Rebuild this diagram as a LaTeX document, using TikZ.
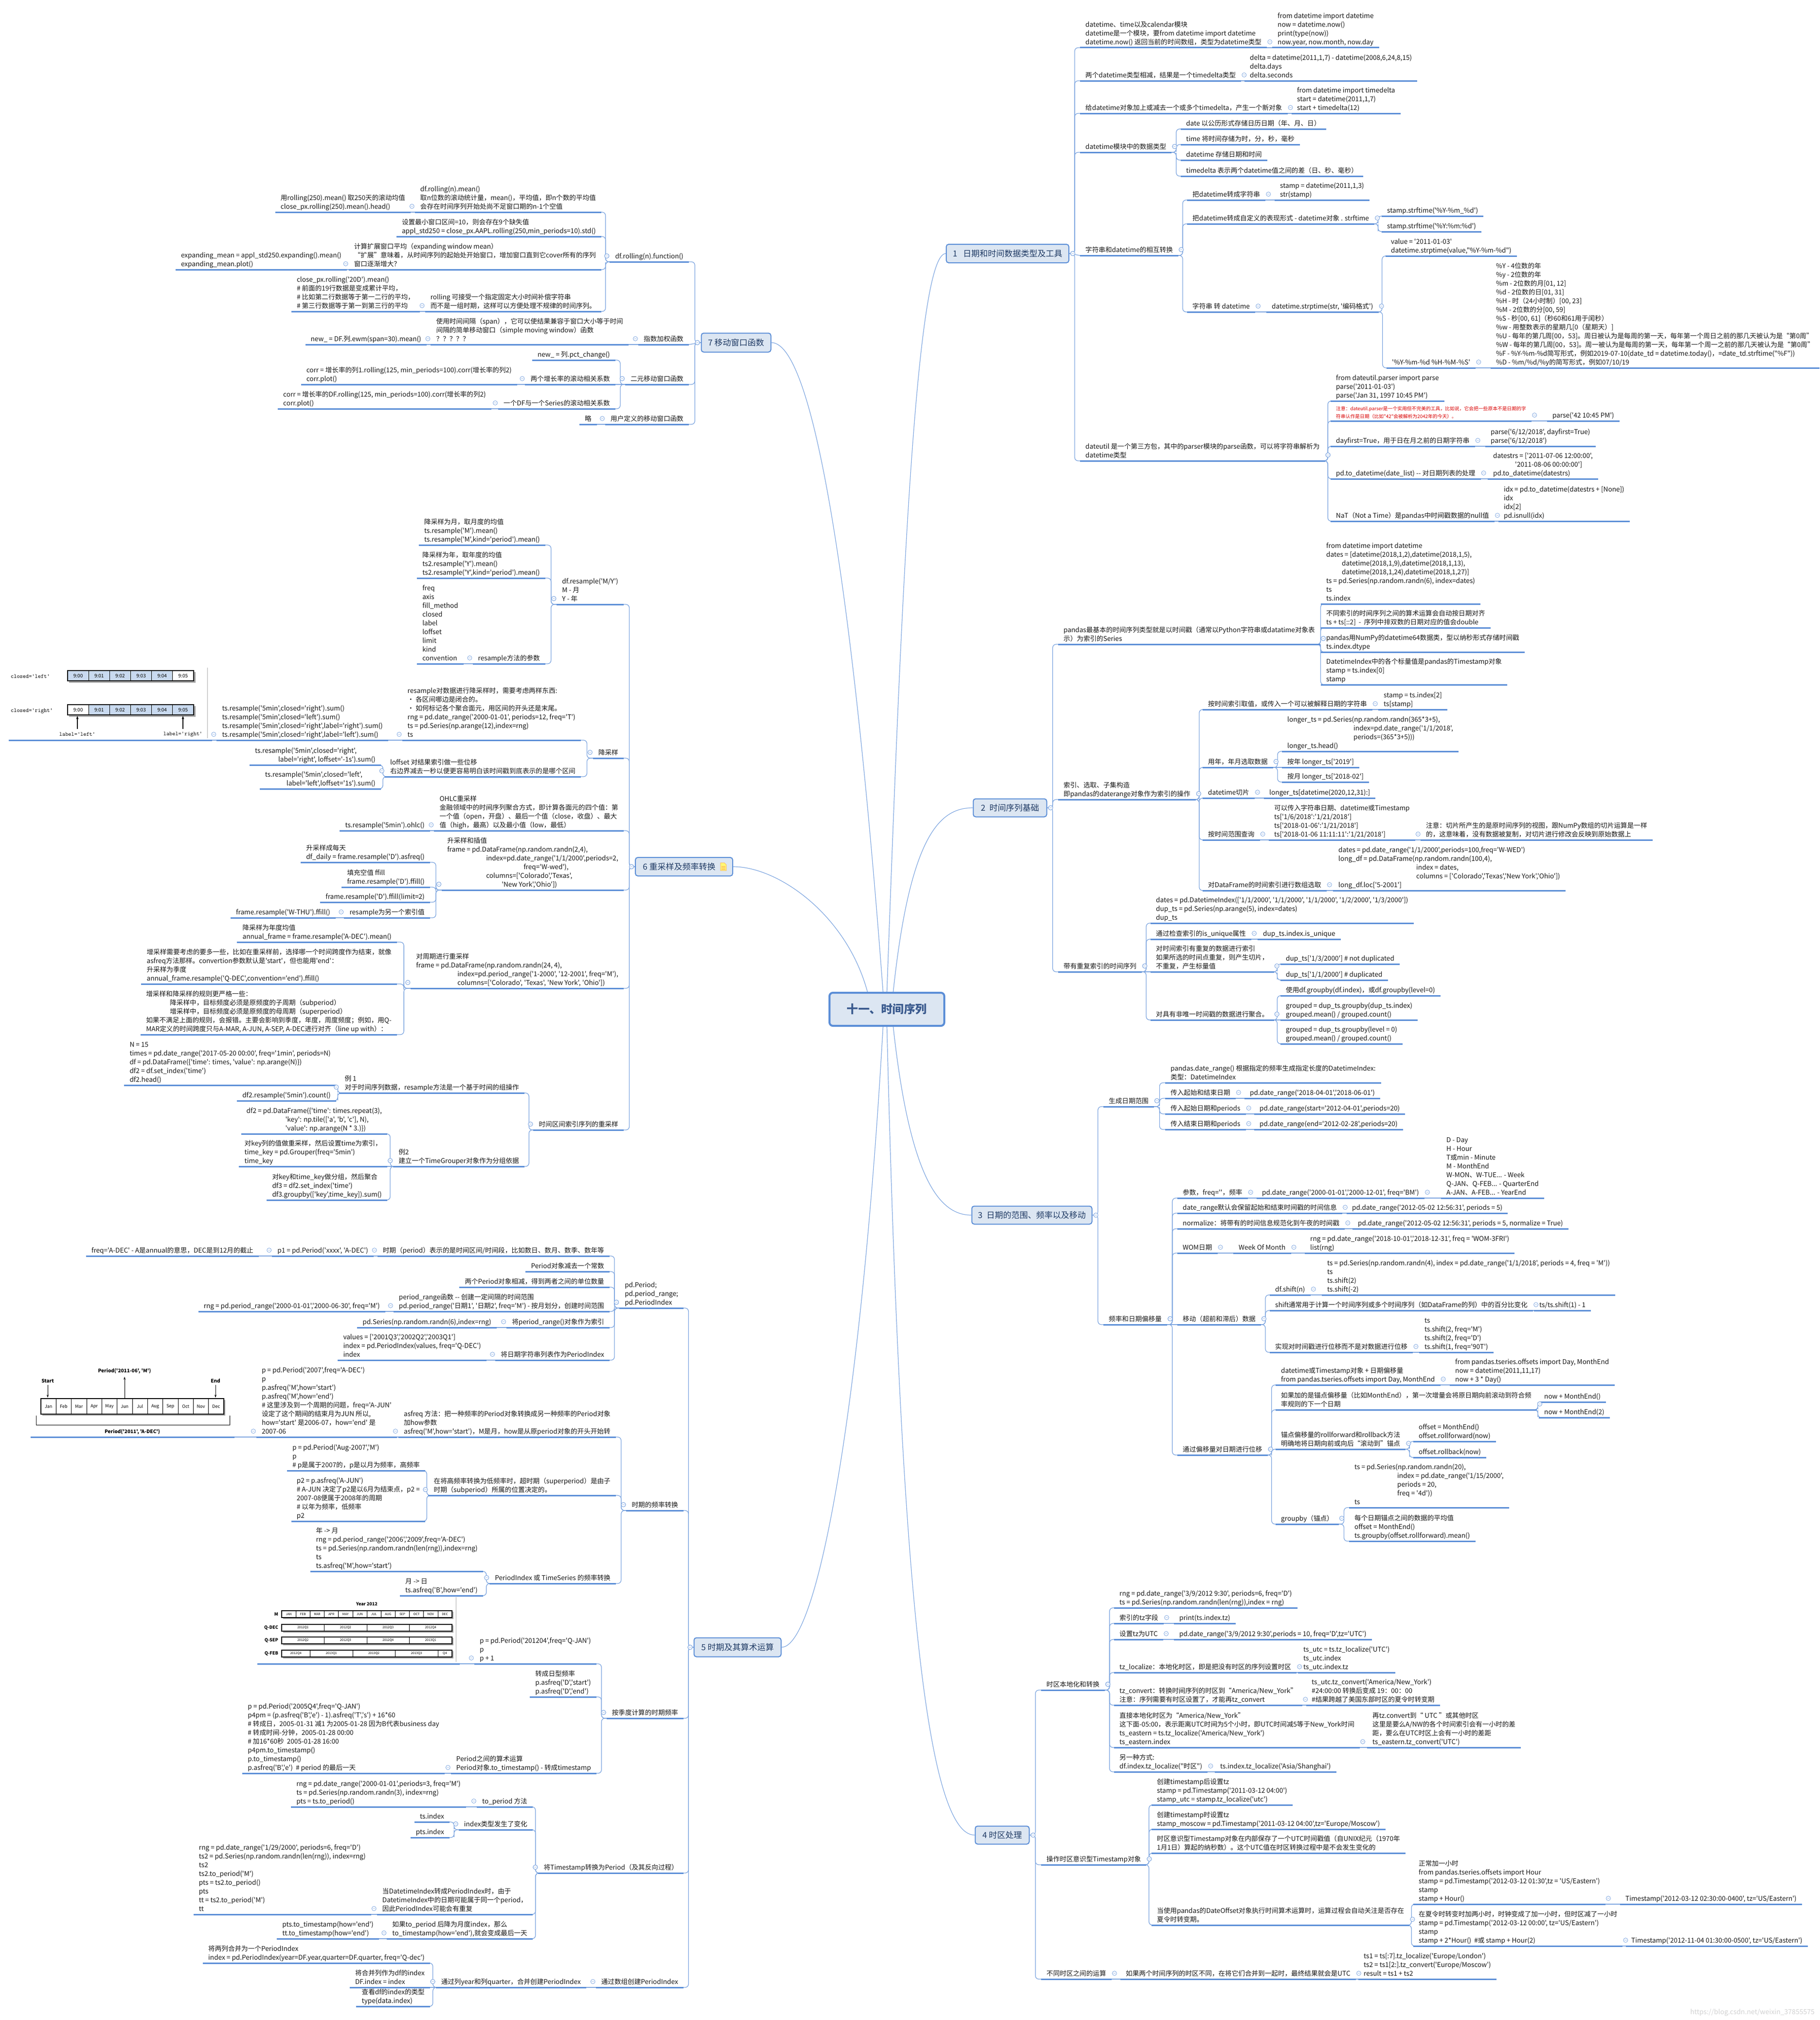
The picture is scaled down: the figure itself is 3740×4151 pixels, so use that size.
\documentclass[tikz,border=0pt]{standalone}
\usepackage{fontspec}
\newfontfamily\zh{Noto Sans CJK SC}
\usetikzlibrary{calc,arrows.meta}
\pgfdeclarelayer{bgzero}\pgfdeclarelayer{background}\pgfsetlayers{bgzero,background,main}
\definecolor{ulc}{HTML}{5B8ED7}
\definecolor{cnc}{HTML}{7EA6E0}
\definecolor{mfill}{HTML}{DCE6F2}
\definecolor{mtext}{HTML}{1F3A64}
\definecolor{ctext}{HTML}{3A5A8E}
\definecolor{cellb}{HTML}{C9DAF0}
\tikzset{
 tn/.style={font=\zh\fontsize{13.6}{18}\selectfont, text=black!90, align=left, inner xsep=11pt, inner ysep=1pt, execute at begin node=\strut, execute at end node=\strut},
 rn/.style={tn, font=\zh\fontsize{9.8}{15.6}\selectfont, text=red!85!black},
 ul/.style={draw=ulc, line width=3pt},
 cn/.style={draw=cnc, line width=1.3pt, rounded corners=7pt},
 icn/.style={draw=cnc, fill=white, line width=0.8pt},
 mn/.style={draw=ulc, line width=2pt, fill=mfill, rounded corners=5pt, font=\zh\fontsize{17}{20}\selectfont, text=mtext, inner sep=0pt},
 cellt/.style={font=\zh\fontsize{10}{10}\selectfont, inner sep=0pt},
 smallt/.style={font=\zh\bfseries\fontsize{10}{10}\selectfont, inner sep=0pt},
 tinyt/.style={font=\zh\fontsize{6.5}{6.5}\selectfont, inner sep=0pt},
 monot/.style={font=\ttfamily\fontsize{12}{12}\selectfont, inner sep=0pt},
 imgbox/.style={inner sep=0pt, anchor=south east}
}
\newcommand{\tR}[4]{\node[tn,anchor=south west] (#1) at (#2,#3) {#4};\draw[ul] (#1.south west) -- (#1.south east);}
\newcommand{\tL}[4]{\node[tn,anchor=south east] (#1) at (#2,#3) {#4};\draw[ul] (#1.south west) -- (#1.south east);}
\newcommand{\icdraw}{\draw[icn] (icp) circle[radius=4.5pt] ([xshift=-2.4pt]icp) -- ([xshift=2.4pt]icp);}
\newcommand{\icR}[1]{\path (#1.south east) ++(6,-12) coordinate (icp);\icdraw}
\newcommand{\icL}[1]{\path (#1.south west) ++(-6,-12) coordinate (icp);\icdraw}
\newcommand{\icRm}[1]{\path (#1.east) ++(7,0) coordinate (icp);\icdraw}
\newcommand{\icLm}[1]{\path (#1.west) ++(-7,0) coordinate (icp);\icdraw}
\newcommand{\jR}[2]{\begin{pgfonlayer}{background}\draw[cn] (#1.south east) -| ($(#1.south east)!0.5!(#2.south west)$) |- (#2.south west);\end{pgfonlayer}\icR{#1}}
\newcommand{\sR}[2]{\begin{pgfonlayer}{background}\draw[cn] (#1.south east) -- (#2.south west);\end{pgfonlayer}\icR{#1}}
\newcommand{\jL}[2]{\begin{pgfonlayer}{background}\draw[cn] (#1.south west) -| ($(#1.south west)!0.5!(#2.south east)$) |- (#2.south east);\end{pgfonlayer}\icL{#1}}
\newcommand{\sL}[2]{\begin{pgfonlayer}{background}\draw[cn] (#1.south west) -- (#2.south east);\end{pgfonlayer}\icL{#1}}
\newcommand{\jRm}[2]{\begin{pgfonlayer}{background}\draw[cn] (#1.east) -| ($(#1.east)!0.5!(#2.south west)$) |- (#2.south west);\end{pgfonlayer}\icRm{#1}}
\newcommand{\sRm}[2]{\begin{pgfonlayer}{background}\draw[cn] (#1.east) -- (#2.south west);\end{pgfonlayer}\icRm{#1}}
\newcommand{\jLm}[2]{\begin{pgfonlayer}{background}\draw[cn] (#1.west) -| ($(#1.west)!0.5!(#2.south east)$) |- (#2.south east);\end{pgfonlayer}\icLm{#1}}
\newcommand{\sLm}[2]{\begin{pgfonlayer}{background}\draw[cn] (#1.west) -- (#2.south east);\end{pgfonlayer}\icLm{#1}}
\begin{document}
\begin{tikzpicture}[x=1pt,y=-1pt]
\begin{pgfonlayer}{bgzero}\fill[white] (0,0) rectangle (3740,4151);\end{pgfonlayer}
\useasboundingbox (0,0) rectangle (3740,4151);

% ---------------- central and main nodes
\node[draw=ulc, line width=4pt, fill=mfill, rounded corners=7pt, minimum width=236pt, minimum height=68pt, inner sep=0pt, font=\zh\bfseries\fontsize{23.5}{28}\selectfont, text=ctext] (ctr) at (1823,2074) {十一、时间序列};
\node[mn, minimum width=252pt, minimum height=38pt] (b1) at (2071,521) {1\hspace{0.7em}日期和时间数据类型及工具};
\node[mn, minimum width=151pt, minimum height=37pt] (b2) at (2076,1660) {2\hspace{0.5em}时间序列基础};
\node[mn, minimum width=247pt, minimum height=37pt] (b3) at (2121,2497) {3\hspace{0.5em}日期的范围、频率以及移动};
\node[mn, minimum width=111pt, minimum height=37pt] (b4) at (2060,3771) {4 时区处理};
\node[mn, minimum width=179pt, minimum height=39pt] (b5) at (1516,3385) {5 时期及其算术运算};
\node[mn, minimum width=200pt, minimum height=38pt] (b6) at (1406,1781) {6 重采样及频率转换\hspace*{20pt}};
\filldraw[fill=yellow!55, draw=orange!70, line width=0.6pt] (1481,1773) -- (1489,1773) -- (1493,1777) -- (1493,1789) -- (1481,1789) -- cycle;
\draw[orange!70, line width=0.5pt] (1483,1780) -- (1491,1780) (1483,1783) -- (1491,1783) (1483,1786) -- (1491,1786);
\node[mn, minimum width=143pt, minimum height=39pt] (b7) at (1513,704) {7 移动窗口函数};

\begin{pgfonlayer}{background}
\draw[cn, line width=1.2pt] ($(ctr.north west)+(120,0)$) .. controls (1850,1300) and (1880,521) .. (b1.west);
\draw[cn, line width=1.2pt] ($(ctr.north west)+(133,0)$) .. controls (1870,1720) and (1930,1660) .. (b2.west);
\draw[cn, line width=1.2pt] ($(ctr.south west)+(133,0)$) .. controls (1870,2420) and (1930,2497) .. (b3.west);
\draw[cn, line width=1.2pt] ($(ctr.south west)+(120,0)$) .. controls (1850,3200) and (1900,3771) .. (b4.west);
\draw[cn, line width=1.2pt] ($(ctr.north west)+(112,0)$) .. controls (1760,1300) and (1680,704) .. (b7.east);
\draw[cn, line width=1.2pt] ($(ctr.north west)+(80,0)$) .. controls (1740,1880) and (1600,1781) .. (b6.east);
\draw[cn, line width=1.2pt] ($(ctr.south west)+(112,0)$) .. controls (1770,2900) and (1680,3385) .. (b5.east);
\end{pgfonlayer}

% ================= Branch 1
\tR{a1}{2220}{98}{datetime、time以及calendar模块\\datetime是一个模块，要from datetime import datetime\\datetime.now() 返回当前的时间数组，类型为datetime类型}
\tR{a1c}{2615}{98}{from datetime import datetime\\now = datetime.now()\\print(type(now))\\now.year, now.month, now.day}
\tR{a2}{2220}{166}{两个datetime类型相减，结果是一个timedelta类型}
\tR{a2c}{2558}{166}{delta = datetime(2011,1,7) - datetime(2008,6,24,8,15)\\delta.days\\delta.seconds}
\tR{a3}{2220}{233}{给datetime对象加上或减去一个或多个timedelta，产生一个新对象}
\tR{a3c}{2655}{233}{from datetime import timedelta\\start = datetime(2011,1,7)\\start + timedelta(12)}
\tR{a4}{2220}{313}{datetime模块中的数据类型}
\tR{a4a}{2427}{265}{date 以公历形式存储日历日期（年、月、日）}
\tR{a4b}{2427}{297}{time 将时间存储为时，分，秒，毫秒}
\tR{a4c}{2427}{329}{datetime 存储日期和时间}
\tR{a4d}{2427}{362}{timedelta 表示两个datetime值之间的差（日、秒、毫秒）}
\tR{a5}{2220}{525}{字符串和datetime的相互转换}
\tR{a5a}{2440}{411}{把datetime转成字符串}
\tR{a5ac}{2620}{411}{stamp = datetime(2011,1,3)\\str(stamp)}
\tR{a5b}{2440}{460}{把datetime转成自定义的表现形式 - datetime对象 . strftime}
\tR{a5b1}{2840}{444}{stamp.strftime('\%Y-\%m\_\%d')}
\tR{a5b2}{2840}{476}{stamp.strftime('\%Y:\%m:\%d')}
\tR{a5c}{2440}{641}{字符串 转 datetime}
\tR{a5cc}{2603}{641}{datetime.strptime(str, '编码格式')}
\tR{a5c1}{2848}{526}{value = '2011-01-03'\\datetime.strptime(value,"\%Y-\%m-\%d")}
\tR{a5c2}{2850}{756}{'\%Y-\%m-\%d \%H-\%M-\%S'}
\tR{a5c2c}{3064}{756}{\%Y - 4位数的年\\\%y - 2位数的年\\\%m - 2位数的月[01, 12]\\\%d - 2位数的日[01, 31]\\\%H - 时（24小时制）[00, 23]\\\%M - 2位数的分[00, 59]\\\%S - 秒[00, 61]（秒60和61用于闰秒）\\\%w - 用整数表示的星期几[0（星期天）]\\\%U - 每年的第几周[00，53]。周日被认为是每周的第一天，每年第一个周日之前的那几天被认为是“第0周”\\\%W - 每年的第几周[00，53]。周一被认为是每周的第一天，每年第一个周一之前的那几天被认为是“第0周”\\\%F - \%Y-\%m-\%d简写形式，例如2019-07-10(date\_td = datetime.today()，=date\_td.strftime("\%F"))\\\%D - \%m/\%d/\%y的简写形式，例如07/10/19}
\tR{a6}{2220}{947}{dateutil 是一个第三方包，其中的parser模块的parse函数，可以将字符串解析为\\datetime类型}
\tR{a6a}{2735}{824}{from dateutil.parser import parse\\parse('2011-01-03')\\parse('Jan 31, 1997 10:45 PM')}
\node[rn,anchor=south west] (a6b) at (2735,865) {注意：dateutil.parser是一个实用但不完美的工具，比如说，它会把一些原本不是日期的字\\符串认作是日期（比如"42"会被解析为2042年的今天）。};
\draw[ul] (a6b.south west) -- (a6b.south east);
\tR{a6bc}{3180}{865}{parse('42 10:45 PM')}
\tR{a6c}{2735}{917}{dayfirst=True，用于日在月之前的日期字符串}
\tR{a6cc}{3053}{917}{parse('6/12/2018', dayfirst=True)\\parse('6/12/2018')}
\tR{a6d}{2735}{984}{pd.to\_datetime(date\_list) -- 对日期列表的处理}
\tR{a6dc}{3058}{984}{datestrs = ['2011-07-06 12:00:00',\\\hspace*{45pt}'2011-08-06 00:00:00']\\pd.to\_datetime(datestrs)}
\tR{a6e}{2735}{1071}{NaT（Not a Time）是pandas中时间戳数据的null值}
\tR{a6ec}{3080}{1071}{idx = pd.to\_datetime(datestrs + [None])\\idx\\idx[2]\\pd.isnull(idx)}

\jRm{b1}{a1}\jRm{b1}{a2}\jRm{b1}{a3}\jRm{b1}{a4}\sRm{b1}{a5}\jRm{b1}{a6}
\sR{a1}{a1c}\sR{a2}{a2c}\sR{a3}{a3c}
\jR{a4}{a4a}\jR{a4}{a4b}\jR{a4}{a4c}\jR{a4}{a4d}
\jR{a5}{a5a}\jR{a5}{a5b}\jR{a5}{a5c}
\sR{a5a}{a5ac}\jR{a5b}{a5b1}\jR{a5b}{a5b2}
\sR{a5c}{a5cc}\jR{a5cc}{a5c1}\jR{a5cc}{a5c2}\sR{a5c2}{a5c2c}
\jR{a6}{a6a}\jR{a6}{a6b}\jR{a6}{a6c}\jR{a6}{a6d}\jR{a6}{a6e}
\sR{a6b}{a6bc}\sR{a6c}{a6cc}\sR{a6d}{a6dc}\sR{a6e}{a6ec}

% ================= Branch 2
\tR{c1}{2175}{1324}{pandas最基本的时间序列类型就是以时间戳（通常以Python字符串或datatime对象表\\示）为索引的Series}
\tR{c1a}{2715}{1241}{from datetime import datetime\\dates = [datetime(2018,1,2),datetime(2018,1,5),\\\hspace*{32pt}datetime(2018,1,9),datetime(2018,1,13),\\\hspace*{32pt}datetime(2018,1,24),datetime(2018,1,27)]\\ts = pd.Series(np.random.randn(6), index=dates)\\ts\\ts.index}
\tR{c1b}{2715}{1290}{不同索引的时间序列之间的算术运算会自动按日期对齐\\ts + ts[::2]\ \ -\ \ 序列中排双数的日期对应的值会double}
\tR{c1c}{2715}{1340}{pandas用NumPy的datetime64数据类，型以纳秒形式存储时间戳\\ts.index.dtype}
\tR{c1d}{2715}{1407}{DatetimeIndex中的各个标量值是pandas的Timestamp对象\\stamp = ts.index[0]\\stamp}
\tR{c2}{2175}{1643}{索引、选取、子集构造\\即pandas的daterange对象作为索引的操作}
\tR{c2a}{2472}{1458}{按时间索引取值，或传入一个可以被解释日期的字符串}
\tR{c2ac}{2833}{1458}{stamp = ts.index[2]\\ts[stamp]}
\tR{c2b}{2472}{1577}{用年，年月选取数据}
\tR{c2b1}{2635}{1544}{longer\_ts = pd.Series(np.random.randn(365*3+5),\\\hspace*{136pt}index=pd.date\_range('1/1/2018',\\\hspace*{136pt}periods=(365*3+5)))\\longer\_ts.head()}
\tR{c2b2}{2635}{1577}{按年 longer\_ts['2019']}
\tR{c2b3}{2635}{1607}{按月 longer\_ts['2018-02']}
\tR{c2c}{2472}{1640}{datetime切片}
\tR{c2cc}{2598}{1640}{longer\_ts[datetime(2020,12,31):]}
\tR{c2d}{2472}{1726}{按时间范围查询}
\tR{c2dc}{2608}{1726}{可以传入字符串日期、datetime或Timestamp\\ts['1/6/2018':'1/21/2018']\\ts['2018-01-06':'1/21/2018']\\ts['2018-01-06 11:11:11':'1/21/2018']}
\tR{c2dcc}{2920}{1726}{注意：切片所产生的是原时间序列的视图，跟NumPy数组的切片运算是一样\\的，这意味着，没有数据被复制，对切片进行修改会反映到原始数据上}
\tR{c2e}{2472}{1830}{对DataFrame的时间索引进行数组选取}
\tR{c2ec}{2740}{1830}{dates = pd.date\_range('1/1/2000',periods=100,freq='W-WED')\\long\_df = pd.DataFrame(np.random.randn(100,4),\\\hspace*{160pt}index = dates,\\\hspace*{160pt}columns = ['Colorado','Texas','New York','Ohio'])\\long\_df.loc['5-2001']}
\tR{c3}{2175}{1997}{带有重复索引的时间序列}
\tR{c3a}{2365}{1897}{dates = pd.DatetimeIndex(['1/1/2000', '1/1/2000', '1/1/2000', '1/2/2000', '1/3/2000'])\\dup\_ts = pd.Series(np.arange(5), index=dates)\\dup\_ts}
\tR{c3b}{2365}{1930}{通过检查索引的is\_unique属性}
\tR{c3bc}{2585}{1930}{dup\_ts.index.is\_unique}
\tR{c3c}{2365}{1997}{对时间索引有重复的数据进行索引\\如果所选的时间点重复，则产生切片，\\不重复，产生标量值}
\tR{c3c1}{2632}{1981}{dup\_ts['1/3/2000'] \# not duplicated}
\tR{c3c2}{2632}{2014}{dup\_ts['1/1/2000'] \# duplicated}
\tR{c3d}{2365}{2096}{对具有非唯一时间戳的数据进行聚合。}
\tR{c3d1}{2632}{2046}{使用df.groupby(df.index)，或df.groupby(level=0)}
\tR{c3d2}{2632}{2096}{grouped = dup\_ts.groupby(dup\_ts.index)\\grouped.mean() / grouped.count()}
\tR{c3d3}{2632}{2145}{grouped = dup\_ts.groupby(level = 0)\\grouped.mean() / grouped.count()}

\jRm{b2}{c1}\jRm{b2}{c2}\jRm{b2}{c3}
\jR{c1}{c1a}\jR{c1}{c1b}\jR{c1}{c1c}\jR{c1}{c1d}
\jR{c2}{c2a}\jR{c2}{c2b}\jR{c2}{c2c}\jR{c2}{c2d}\jR{c2}{c2e}
\sR{c2a}{c2ac}\jR{c2b}{c2b1}\sR{c2b}{c2b2}\jR{c2b}{c2b3}
\sR{c2c}{c2cc}\sR{c2d}{c2dc}\sR{c2dc}{c2dcc}\sR{c2e}{c2ec}
\jR{c3}{c3a}\jR{c3}{c3b}\sR{c3}{c3c}\jR{c3}{c3d}
\sR{c3b}{c3bc}\jR{c3c}{c3c1}\jR{c3c}{c3c2}
\jR{c3d}{c3d1}\sR{c3d}{c3d2}\jR{c3d}{c3d3}

% ================= Branch 3
\tR{d1}{2268}{2274}{生成日期范围}
\tR{d1a}{2395}{2225}{pandas.date\_range() 根据指定的频率生成指定长度的DatetimeIndex:\\类型：DatetimeIndex}
\tR{d1b}{2395}{2257}{传入起始和结束日期}
\tR{d1bc}{2558}{2257}{pd.date\_range('2018-04-01','2018-06-01')}
\tR{d1c}{2395}{2289}{传入起始日期和periods}
\tR{d1cc}{2578}{2289}{pd.date\_range(start='2012-04-01',periods=20)}
\tR{d1d}{2395}{2321}{传入结束日期和periods}
\tR{d1dc}{2578}{2321}{pd.date\_range(end='2012-02-28',periods=20)}
\tR{d2}{2268}{2722}{频率和日期偏移量}
\tR{d2a}{2420}{2462}{参数，freq=''，频率}
\tR{d2ac}{2583}{2462}{pd.date\_range('2000-01-01','2000-12-01', freq='BM')}
\tR{d2acc}{2962}{2462}{D - Day\\H - Hour\\T或min - Minute\\M - MonthEnd\\W-MON、W-TUE... - Week\\Q-JAN、Q-FEB... - QuarterEnd\\A-JAN、A-FEB... - YearEnd}
\tR{d2b}{2420}{2493}{date\_range默认会保留起始和结束时间戳的时间信息}
\tR{d2bc}{2768}{2493}{pd.date\_range('2012-05-02 12:56:31', periods = 5)}
\tR{d2c}{2420}{2525}{normalize：将带有的时间信息规范化到午夜的时间戳}
\tR{d2cc}{2780}{2525}{pd.date\_range('2012-05-02 12:56:31', periods = 5, normalize = True)}
\tR{d2d}{2420}{2575}{WOM日期}
\tR{d2dc}{2535}{2575}{Week Of Month}
\tR{d2dcc}{2682}{2575}{rng = pd.date\_range('2018-10-01','2018-12-31', freq = 'WOM-3FRI')\\list(rng)}
\tR{d2e}{2420}{2722}{移动（超前和滞后）数据}
\tR{d2e1}{2610}{2661}{df.shift(n)}
\tR{d2e1c}{2717}{2661}{ts = pd.Series(np.random.randn(4), index = pd.date\_range('1/1/2018', periods = 4, freq = 'M'))\\ts\\ts.shift(2)\\ts.shift(-2)}
\tR{d2e2}{2610}{2693}{shift通常用于计算一个时间序列或多个时间序列（如DataFrame的列）中的百分比变化}
\tR{d2e2c}{3153}{2693}{ts/ts.shift(1) - 1}
\tR{d2e3}{2610}{2779}{实现对时间戳进行位移而不是对数据进行位移}
\tR{d2e3c}{2917}{2779}{ts\\ts.shift(2, freq='M')\\ts.shift(2, freq='D')\\ts.shift(1, freq='90T')}
\tR{d2f}{2420}{2990}{通过偏移量对日期进行位移}
\tR{d2f1}{2622}{2846}{datetime或Timestamp对象 + 日期偏移量\\from pandas.tseries.offsets import Day, MonthEnd}
\tR{d2f1c}{2980}{2846}{from pandas.tseries.offsets import Day, MonthEnd\\now = datetime(2011,11,17)\\now + 3 * Day()}
\tR{d2f2}{2622}{2897}{如果加的是锚点偏移量（比如MonthEnd），第一次增量会将原日期向前滚动到符合频\\率规则的下一个日期}
\tR{d2f2a}{3163}{2881}{now + MonthEnd()}
\tR{d2f2b}{3163}{2913}{now + MonthEnd(2)}
\tR{d2f3}{2622}{2978}{锚点偏移量的rollforward和rollback方法\\明确地将日期向前或向后“滚动到”锚点}
\tR{d2f3a}{2905}{2962}{offset = MonthEnd()\\offset.rollforward(now)}
\tR{d2f3b}{2905}{2995}{offset.rollback(now)}
\tR{d2f4}{2622}{3132}{groupby（锚点）}
\tR{d2f4a}{2773}{3098}{ts = pd.Series(np.random.randn(20),\\\hspace*{88pt}index = pd.date\_range('1/15/2000',\\\hspace*{88pt}periods = 20,\\\hspace*{88pt}freq = '4d'))\\ts}
\tR{d2f4b}{2773}{3167}{每个日期锚点之间的数据的平均值\\offset = MonthEnd()\\ts.groupby(offset.rollforward).mean()}

\jRm{b3}{d1}\jRm{b3}{d2}
\jR{d1}{d1a}\jR{d1}{d1b}\jR{d1}{d1c}\jR{d1}{d1d}
\sR{d1b}{d1bc}\sR{d1c}{d1cc}\sR{d1d}{d1dc}
\jR{d2}{d2a}\jR{d2}{d2b}\jR{d2}{d2c}\jR{d2}{d2d}\sR{d2}{d2e}\jR{d2}{d2f}
\sR{d2a}{d2ac}\sR{d2ac}{d2acc}\sR{d2b}{d2bc}\sR{d2c}{d2cc}\sR{d2d}{d2dc}\sR{d2dc}{d2dcc}
\jR{d2e}{d2e1}\jR{d2e}{d2e2}\jR{d2e}{d2e3}
\sR{d2e1}{d2e1c}\sR{d2e2}{d2e2c}\sR{d2e3}{d2e3c}
\jR{d2f}{d2f1}\jR{d2f}{d2f2}\jR{d2f}{d2f3}\jR{d2f}{d2f4}
\sR{d2f1}{d2f1c}\jR{d2f2}{d2f2a}\jR{d2f2}{d2f2b}\jR{d2f3}{d2f3a}\jR{d2f3}{d2f3b}\jR{d2f4}{d2f4a}\jR{d2f4}{d2f4b}

% ================= Branch 4
\tR{e1}{2140}{3473}{时区本地化和转换}
\tR{e1a}{2290}{3304}{rng = pd.date\_range('3/9/2012 9:30', periods=6, freq='D')\\ts = pd.Series(np.random.randn(len(rng)),index = rng)}
\tR{e1b}{2290}{3336}{索引的tz字段}
\tR{e1bc}{2413}{3336}{print(ts.index.tz)}
\tR{e1c}{2290}{3369}{设置tz为UTC}
\tR{e1cc}{2413}{3369}{pd.date\_range('3/9/2012 9:30',periods = 10, freq='D',tz='UTC')}
\tR{e1d}{2290}{3437}{tz\_localize：本地化时区，即是把没有时区的序列设置时区}
\tR{e1dc}{2668}{3437}{ts\_utc = ts.tz\_localize('UTC')\\ts\_utc.index\\ts\_utc.index.tz}
\tR{e1e}{2290}{3504}{tz\_convert：转换时间序列的时区到“America/New\_York”\\注意：序列需要有时区设置了，才能再tz\_convert}
\tR{e1ec}{2685}{3504}{ts\_utc.tz\_convert('America/New\_York')\\\#24:00:00 转换后变成 19：00：00\\\#结果跨越了美国东部时区的夏令时转变期}
\tR{e1f}{2290}{3591}{直接本地化时区为“America/New\_York”\\这下面-05:00，表示距离UTC时间为5个小时，即UTC时间减5等于New\_York时间\\ts\_eastern = ts.tz\_localize('America/New\_York')\\ts\_eastern.index}
\tR{e1fc}{2810}{3591}{再tz.convert到“ UTC ”或其他时区\\这里是要么A/NW的各个时间索引会有一小时的差\\距，要么在UTC时区上会有一小时的差距\\ts\_eastern.tz\_convert('UTC')}
\tR{e1g}{2290}{3641}{另一种方式:\\df.index.tz\_localize("时区")}
\tR{e1gc}{2497}{3641}{ts.index.tz\_localize('Asia/Shanghai')}
\tR{e2}{2140}{3832}{操作时区意识型Timestamp对象}
\tR{e2a}{2367}{3709}{创建timestamp后设置tz\\stamp = pd.Timestamp('2011-03-12 04:00')\\stamp\_utc = stamp.tz\_localize('utc')}
\tR{e2b}{2367}{3759}{创建timestamp时设置tz\\stamp\_moscow = pd.Timestamp('2011-03-12 04:00',tz='Europe/Moscow')}
\tR{e2c}{2367}{3808}{时区意识型Timestamp对象在内部保存了一个UTC时间戳值（自UNIX纪元（1970年\\1月1日）算起的纳秒数）。这个UTC值在时区转换过程中是不会发生变化的}
\tR{e2d}{2367}{3956}{当使用pandas的DateOffset对象执行时间算术运算时，运算过程会自动关注是否存在\\夏令时转变期。}
\tR{e2d1}{2905}{3913}{正常加一小时\\from pandas.tseries.offsets import Hour\\stamp = pd.Timestamp('2012-03-12 01:30',tz = 'US/Eastern')\\stamp\\stamp + Hour()}
\tR{e2d1c}{3330}{3913}{Timestamp('2012-03-12 02:30:00-0400', tz='US/Eastern')}
\tR{e2d2}{2905}{3999}{在夏令时转变时加两小时，时钟变成了加一小时，但时区减了一小时\\stamp = pd.Timestamp('2012-03-12 00:00', tz='US/Eastern')\\stamp\\stamp + 2*Hour()\ \ \#或 stamp + Hour(2)}
\tR{e2d2c}{3342}{3999}{Timestamp('2012-11-04 01:30:00-0500', tz='US/Eastern')}
\tR{e3}{2140}{4067}{不同时区之间的运算}
\tR{e3c}{2303}{4067}{如果两个时间序列的时区不同，在将它们合并到一起时，最终结果就会是UTC}
\tR{e3cc}{2792}{4067}{ts1 = ts[:7].tz\_localize('Europe/London')\\ts2 = ts1[2:].tz\_convert('Europe/Moscow')\\result = ts1 + ts2}

\jRm{b4}{e1}\jRm{b4}{e2}\jRm{b4}{e3}
\jR{e1}{e1a}\jR{e1}{e1b}\jR{e1}{e1c}\jR{e1}{e1d}\jR{e1}{e1e}\jR{e1}{e1f}\jR{e1}{e1g}
\sR{e1b}{e1bc}\sR{e1c}{e1cc}\sR{e1d}{e1dc}\sR{e1e}{e1ec}\sR{e1f}{e1fc}\sR{e1g}{e1gc}
\jR{e2}{e2a}\jR{e2}{e2b}\jR{e2}{e2c}\jR{e2}{e2d}
\jR{e2d}{e2d1}\jR{e2d}{e2d2}\sR{e2d1}{e2d1c}\sR{e2d2}{e2d2c}
\sR{e3}{e3c}\sR{e3c}{e3cc}

% ================= Branch 7 (left)
\tL{g1}{1416}{538}{df.rolling(n).function()}
\tL{g1a}{1236}{436}{df.rolling(n).mean()\\取n位数的滚动统计量，mean()，平均值，即n个数的平均值\\会存在时间序列开始处尚不足窗口期的n-1个空值}
\tL{g1ac}{844}{436}{用rolling(250).mean() 取250天的滚动均值\\close\_px.rolling(250).mean().head()}
\tL{g1b}{1236}{486}{设置最小窗口区间=10，则会存在9个缺失值\\appl\_std250 = close\_px.AAPL.rolling(250,min\_periods=10).std()}
\tL{g1c}{1236}{554}{计算扩展窗口平均（expanding window mean）\\“扩展”意味着，从时间序列的起始处开始窗口，增加窗口直到它cover所有的序列\\窗口逐渐增大？}
\tL{g1cc}{713}{554}{expanding\_mean = appl\_std250.expanding().mean()\\expanding\_mean.plot()}
\tL{g1d}{1236}{640}{rolling 可接受一个指定固定大小时间补偿字符串\\而不是一组时期，这样可以方便处理不规律的时间序列。}
\tL{g1dc}{863}{640}{close\_px.rolling('20D').mean()\\\# 前面的19行数据是变成累计平均，\\\# 比如第二行数据等于第一二行的平均，\\\# 第三行数据等于第一到第三行的平均}
\tL{g2}{1416}{708}{指数加权函数}
\tL{g2c}{1292}{708}{使用时间间隔（span），它可以使结果兼容于窗口大小等于时间\\间隔的简单移动窗口（simple moving window）函数\\？？？？？}
\tL{g2cc}{877}{708}{new\_ = DF.列.ewm(span=30).mean()}
\tL{g3}{1416}{790}{二元移动窗口函数}
\tL{g3a}{1265}{740}{new\_ = 列.pct\_change()}
\tL{g3b}{1265}{790}{两个增长率的滚动相关系数}
\tL{g3bc}{1063}{790}{corr = 增长率的列1.rolling(125, min\_periods=100).corr(增长率的列2)\\corr.plot()}
\tL{g3c}{1265}{840}{一个DF与一个Series的滚动相关系数}
\tL{g3cc}{1010}{840}{corr = 增长率的DF.rolling(125, min\_periods=100).corr(增长率的列2)\\corr.plot()}
\tL{g4}{1416}{872}{用户定义的移动窗口函数}
\tL{g4c}{1227}{872}{略}

\jLm{b7}{g1}\sLm{b7}{g2}\jLm{b7}{g3}\jLm{b7}{g4}
\jL{g1}{g1a}\jL{g1}{g1b}\jL{g1}{g1c}\jL{g1}{g1d}
\sL{g1a}{g1ac}\sL{g1c}{g1cc}\sL{g1d}{g1dc}
\sL{g2}{g2c}\sL{g2c}{g2cc}
\jL{g3}{g3a}\sL{g3}{g3b}\jL{g3}{g3c}\sL{g3b}{g3bc}\sL{g3c}{g3cc}
\sL{g4}{g4c}

% ================= Branch 6 (left)
\tL{f1}{1282}{1242}{df.resample('M/Y')\\M - 月\\Y - 年}
\tL{f1a}{1121}{1120}{降采样为月，取月度的均值\\ts.resample('M').mean()\\ts.resample('M',kind='period').mean()}
\tL{f1b}{1121}{1188}{降采样为年，取年度的均值\\ts2.resample('Y').mean()\\ts2.resample('Y',kind='period').mean()}
\tL{f1c}{1121}{1364}{resample方法的参数}
\tL{f1cc}{953}{1364}{freq\\axis\\fill\_method\\closed\\label\\loffset\\limit\\kind\\convention}
\tL{f2}{1282}{1558}{降采样}
\tL{f2a}{1194}{1521}{resample对数据进行降采样时，需要考虑两样东西:\\• 各区间哪边是闭合的。\\• 如何标记各个聚合面元，用区间的开头还是末尾。\\rng = pd.date\_range('2000-01-01', periods=12, freq='T')\\ts = pd.Series(np.arange(12),index=rng)\\ts}
\tL{f2ac}{798}{1521}{ts.resample('5min',closed='right').sum()\\ts.resample('5min',closed='left').sum()\\ts.resample('5min',closed='right',label='right').sum()\\ts.resample('5min',closed='right',label='left').sum()}
\tL{f2b}{1194}{1596}{loffset 对结果索引做一些位移\\右边界减去一秒以便更容易明白该时间戳到底表示的是哪个区间}
\tL{f2b1}{783}{1572}{ts.resample('5min',closed='right',\\\hspace*{48pt}label='right', loffset='-1s').sum()}
\tL{f2b2}{783}{1621}{ts.resample('5min',closed='left',\\\hspace*{44pt}label='left',loffset='1s').sum()}
\tL{f3}{1282}{1707}{OHLC重采样\\金融领域中的时间序列聚合方式，即计算各面元的四个值：第\\一个值（open，开盘）、最后一个值（close，收盘）、最大\\值（high，最高）以及最小值（low，最低）}
\tL{f3c}{884}{1707}{ts.resample('5min').ohlc()}
\tL{f4}{1282}{1829}{升采样和插值\\frame = pd.DataFrame(np.random.randn(2,4),\\\hspace*{80pt}index=pd.date\_range('1/1/2000',periods=2,\\\hspace*{157pt}freq='W-wed'),\\\hspace*{80pt}columns=['Colorado','Texas',\\\hspace*{112pt}'New York','Ohio'])}
\tL{f4a}{884}{1772}{升采样成每天\\df\_daily = frame.resample('D').asfreq()}
\tL{f4b}{884}{1823}{填充空值 ffill\\frame.resample('D').ffill()}
\tL{f4c}{884}{1854}{frame.resample('D').ffill(limit=2)}
\tL{f4d}{884}{1886}{resample为另一个索引值}
\tL{f4dc}{690}{1886}{frame.resample('W-THU').ffill()}
\tL{f5}{1282}{2031}{对周期进行重采样\\frame = pd.DataFrame(np.random.randn(24, 4),\\\hspace*{85pt}index=pd.period\_range('1-2000', '12-2001', freq='M'),\\\hspace*{85pt}columns=['Colorado', 'Texas', 'New York', 'Ohio'])}
\tL{f5a}{816}{1936}{降采样为年度均值\\annual\_frame = frame.resample('A-DEC').mean()}
\tL{f5b}{816}{2022}{增采样需要考虑的要多一些，比如在重采样前，选择哪一个时间跨度作为结束，就像\\asfreq方法那样。convertion参数默认是'start'，但也能用'end'：\\升采样为季度\\annual\_frame.resample('Q-DEC',convention='end').ffill()}
\tL{f5c}{816}{2126}{增采样和降采样的规则更严格一些：\\\hspace*{49pt}降采样中，目标频度必须是原频度的子周期（subperiod）\\\hspace*{49pt}增采样中，目标频度必须是原频度的母周期（superperiod）\\如果不满足上面的规则，会报错。主要会影响到季度，年度，周度频度；例如，用Q-\\MAR定义的时间跨度只与A-MAR, A-JUN, A-SEP, A-DEC进行对齐（line up with）：}
\tL{f6}{1282}{2322}{时间区间索引序列的重采样}
\tL{f6a}{1078}{2246}{例 1\\对于时间序列数据，resample方法是一个基于时间的组操作}
\tL{f6a1}{691}{2230}{N = 15\\times = pd.date\_range('2017-05-20 00:00', freq='1min', periods=N)\\df = pd.DataFrame(\{'time': times, 'value': np.arange(N)\})\\df2 = df.set\_index('time')\\df2.head()}
\tL{f6a2}{691}{2262}{df2.resample('5min').count()}
\tL{f6b}{1078}{2397}{例2\\建立一个TimeGrouper对象作为分组依据}
\tL{f6b1}{796}{2330}{df2 = pd.DataFrame(\{'time': times.repeat(3),\\\hspace*{80pt}'key': np.tile(['a', 'b', 'c'], N),\\\hspace*{80pt}'value': np.arange(N * 3.)\})}
\tL{f6b2}{796}{2397}{对key列的值做重采样，然后设置time为索引，\\time\_key = pd.Grouper(freq='5min')\\time\_key}
\tL{f6b3}{796}{2466}{对key和time\_key做分组，然后聚合\\df3 = df2.set\_index('time')\\df3.groupby(['key',time\_key]).sum()}

% image 1 : closed / label
\node[imgbox, minimum width=418pt, minimum height=150pt] (img1) at (436,1521) {};
\draw[ul] (img1.south west) -- (img1.south east);
\draw[gray!60, line width=0.8pt] (426,1372) -- (426,1517);
\node[monot, anchor=west] (i1a) at (22,1390) {closed='left'};
\node[monot, anchor=west] (i1b) at (22,1461) {closed='right'};
\fill[black!35] (142,1381) rectangle (402,1403);
\fill[black!35] (142,1451) rectangle (402,1473);
\fill[cellb] (139,1378) rectangle (355,1399);
\fill[white] (355,1378) rectangle (398,1399);
\fill[white] (139,1448) rectangle (182,1469);
\fill[cellb] (182,1448) rectangle (398,1469);
\draw[line width=1.4pt] (139,1378) rectangle (398,1399);
\draw[line width=1.4pt] (139,1448) rectangle (398,1469);
\foreach \i in {1,...,5} {\draw[line width=0.8pt] ({139+43.17*\i},1378) -- ++(0,21); \draw[line width=0.8pt] ({139+43.17*\i},1448) -- ++(0,21);}
\foreach \i/\t in {0/9:00,1/9:01,2/9:02,3/9:03,4/9:04,5/9:05} {\node[cellt] (ra\i) at ({160.6+43.17*\i},1388.5) {\t}; \node[cellt] (rb\i) at ({160.6+43.17*\i},1458.5) {\t};}
\draw[-{Stealth[length=7pt,width=5pt]}, line width=1.2pt] (159,1498) -- (159,1471);
\draw[-{Stealth[length=7pt,width=5pt]}, line width=1.2pt] (376,1498) -- (376,1471);
\node[monot] (i1c) at (159,1509) {label='left'};
\node[monot] (i1d) at (376,1509) {label='right'};

\jLm{b6}{f1}\jLm{b6}{f2}\jLm{b6}{f3}\jLm{b6}{f4}\jLm{b6}{f5}\jLm{b6}{f6}
\jL{f1}{f1a}\jL{f1}{f1b}\jL{f1}{f1c}\sL{f1c}{f1cc}
\jL{f2}{f2a}\jL{f2}{f2b}\sL{f2a}{f2ac}\sL{f2ac}{img1}\jL{f2b}{f2b1}\jL{f2b}{f2b2}
\sL{f3}{f3c}
\jL{f4}{f4a}\jL{f4}{f4b}\jL{f4}{f4c}\jL{f4}{f4d}\sL{f4d}{f4dc}
\jL{f5}{f5a}\jL{f5}{f5b}\jL{f5}{f5c}
\jL{f6}{f6a}\jL{f6}{f6b}\jL{f6a}{f6a1}\jL{f6a}{f6a2}
\jL{f6b}{f6b1}\sL{f6b}{f6b2}\jL{f6b}{f6b3}

% ================= Branch 5 (left)
\tL{h1}{1405}{2688}{pd.Period;\\pd.period\_range;\\pd.PeriodIndex}
\tL{h1a}{1253}{2581}{时期（period）表示的是时间区间/时间段，比如数日、数月、数季、数年等}
\tL{h1ac}{768}{2581}{p1 = pd.Period('xxxx', 'A-DEC')}
\tL{h1acc}{532}{2581}{freq='A-DEC' - A是annual的意思，DEC是到12月的截止}
\tL{h1b}{1253}{2613}{Period对象减去一个常数}
\tL{h1c}{1253}{2645}{两个Period对象相减，得到两者之间的单位数量}
\tL{h1d}{1253}{2695}{period\_range函数 -- 创建一定间隔的时间范围\\pd.period\_range('日期1', '日期2', freq='M') - 按月划分，创建时间范围}
\tL{h1dc}{792}{2695}{rng = pd.period\_range('2000-01-01','2000-06-30', freq='M')}
\tL{h1e}{1253}{2728}{将period\_range()对象作为索引}
\tL{h1ec}{1021}{2728}{pd.Series(np.random.randn(6),index=rng)}
\tL{h1f}{1253}{2795}{将日期字符串列表作为PeriodIndex}
\tL{h1fc}{1000}{2795}{values = ['2001Q3','2002Q2','2003Q1']\\index = pd.PeriodIndex(values, freq='Q-DEC')\\index}
\tL{h2}{1405}{3104}{时期的频率转换}
\tL{h2a}{1266}{2953}{asfreq 方法：把一种频率的Period对象转换成另一种频率的Period对象\\加how参数\\asfreq('M',how='start')，M是月，how是从原period对象的开头开始转}
\tL{h2ac}{816}{2953}{p = pd.Period('2007',freq='A-DEC')\\p\\p.asfreq('M',how='start')\\p.asfreq('M',how='end')\\\# 这里涉及到一个周期的问题，freq='A-JUN'\\设定了这个期间的结束月为JUN 所以,\\how='start' 是2006-07，how='end' 是\\2007-06}
\tL{h2b}{1266}{3073}{在将高频率转换为低频率时，超时期（superperiod）是由子\\时期（subperiod）所属的位置决定的。}
\tL{h2b1}{874}{3022}{p = pd.Period('Aug-2007','M')\\p\\\# p是属于2007的，p是以月为频率，高频率}
\tL{h2b2}{874}{3126}{p2 = p.asfreq('A-JUN')\\\# A-JUN 决定了p2是以6月为结束点，p2 =\\2007-08便属于2008年的周期\\\# 以年为频率，低频率\\p2}
\tL{h2c}{1266}{3254}{PeriodIndex 或 TimeSeries 的频率转换}
\tL{h2c1}{993}{3229}{年 -> 月\\rng = pd.period\_range('2006','2009',freq='A-DEC')\\ts = pd.Series(np.random.randn(len(rng)),index=rng)\\ts\\ts.asfreq('M',how='start')}
\tL{h2c2}{993}{3279}{月 -> 日\\ts.asfreq('B',how='end')}
\tL{h3}{1405}{3531}{按季度计算的时期频率}
\tL{h3a}{1226}{3419}{p = pd.Period('201204',freq='Q-JAN')\\p\\p + 1}
\tL{h3b}{1226}{3487}{转成日型频率\\p.asfreq('D','start')\\p.asfreq('D','end')}
\tL{h3c}{1226}{3644}{Period之间的算术运算\\Period对象.to\_timestamp() - 转成timestamp}
\tL{h3cc}{914}{3644}{p = pd.Period('2005Q4',freq='Q-JAN')\\p4pm = (p.asfreq('B','e') - 1).asfreq('T','s') + 16*60\\\# 转成日，2005-01-31 减1 为2005-01-28 因为B代表business day\\\# 转成时间-分钟，2005-01-28 00:00\\\# 加16*60秒\ \ 2005-01-28 16:00\\p4pm.to\_timestamp()\\p.to\_timestamp()\\p.asfreq('B','e')\ \ \# period 的最后一天}
\tL{h4}{1405}{3849}{将Timestamp转换为Period（及其反向过程）}
\tL{h4a}{1095}{3713}{to\_period 方法}
\tL{h4ac}{958}{3713}{rng = pd.date\_range('2000-01-01',periods=3, freq='M')\\ts = pd.Series(np.random.randn(3), index=rng)\\pts = ts.to\_period()}
\tL{h4b}{1095}{3760}{index类型发生了变化}
\tL{h4b1}{924}{3744}{ts.index}
\tL{h4b2}{924}{3776}{pts.index}
\tL{h4c}{1095}{3934}{当DatetimeIndex转成PeriodIndex时，由于\\DatetimeIndex中的日期可能属于同一个period，\\因此PeriodIndex可能会有重复}
\tL{h4cc}{763}{3934}{rng = pd.date\_range('1/29/2000', periods=6, freq='D')\\ts2 = pd.Series(np.random.randn(len(rng)), index=rng)\\ts2\\ts2.to\_period('M')\\pts = ts2.to\_period()\\pts\\tt = ts2.to\_period('M')\\tt}
\tL{h4d}{1095}{3984}{如果to\_period 后降为月度index，那么\\to\_timestamp(how='end'),就会变成最后一天}
\tL{h4dc}{779}{3984}{pts.to\_timestamp(how='end')\\tt.to\_timestamp(how='end')}
\tL{h5}{1405}{4084}{通过数组创建PeriodIndex}
\tL{h5c}{1205}{4084}{通过列year和列quarter，合并创建PeriodIndex}
\tL{h5c1}{884}{4034}{将两列合并为一个PeriodIndex\\index = pd.PeriodIndex(year=DF.year,quarter=DF.quarter, freq='Q-dec')}
\tL{h5c2}{884}{4084}{将合并列作为df的index\\DF.index = index}
\tL{h5c3}{884}{4123}{查看df的index的类型\\type(data.index)}

% image 2 : Period diagram
\node[imgbox, minimum width=419pt, minimum height=150pt] (img2) at (482,2953) {};
\draw[ul] (img2.south west) -- (img2.south east);
\node[smallt] (i2a) at (256,2817) {Period('2011-06', 'M')};
\node[smallt] (i2b) at (98,2838) {Start};
\node[smallt] (i2c) at (443,2838) {End};
\draw[-{Stealth[length=6pt,width=4pt]}, line width=0.8pt] (98,2846) -- (98,2872);
\draw[-{Stealth[length=6pt,width=4pt]}, line width=0.8pt] (443,2846) -- (443,2872);
\draw[-{Stealth[length=6pt,width=4pt]}, line width=0.8pt] (256,2874) -- (256,2829);
\fill[black!35] (87,2877) rectangle (463,2909);
\filldraw[fill=white, line width=1.2pt] (84,2874) rectangle (460,2906);
\foreach \i/\t in {0/Jan,1/Feb,2/Mar,3/Apr,4/May,5/Jun,6/Jul,7/Aug,8/Sep,9/Oct,10/Nov,11/Dec} {\node[cellt, font=\zh\fontsize{9}{9}\selectfont] (pm\i) at ({99.7+31.33*\i},2890) {\t};}
\foreach \i in {1,...,11} {\draw[line width=0.7pt] ({84+31.33*\i},2874) -- ++(0,32);}
\draw[line width=0.8pt] (74,2909) -- (74,2928) -- (472,2928) -- (472,2909);
\node[smallt] (i2d) at (272,2942) {Period('2011', 'A-DEC')};

% image 3 : Year 2012 diagram
\node[imgbox, minimum width=416pt, minimum height=140pt] (img3) at (945,3419) {};
\draw[ul] (img3.south west) -- (img3.south east);
\draw[gray!60, line width=0.8pt] (937,3282) -- (937,3415);
\node[smallt, font=\zh\bfseries\fontsize{9}{9}\selectfont] (i3a) at (754,3296) {Year 2012};
\node[smallt, font=\zh\bfseries\fontsize{9}{9}\selectfont, anchor=east] (i3b) at (572,3317) {M};
\node[smallt, font=\zh\bfseries\fontsize{9}{9}\selectfont, anchor=east] (i3c) at (572,3345) {Q-DEC};
\node[smallt, font=\zh\bfseries\fontsize{9}{9}\selectfont, anchor=east] (i3d) at (572,3371) {Q-SEP};
\node[smallt, font=\zh\bfseries\fontsize{9}{9}\selectfont, anchor=east] (i3e) at (572,3398) {Q-FEB};
\foreach \ya in {3310,3338,3364,3391} {\fill[black!35] (582,\ya+2) rectangle (932,\ya+17); \filldraw[fill=white, line width=1.2pt] (579,\ya) rectangle (929,\ya+14);}
\foreach \i/\t in {0/JAN,1/FEB,2/MAR,3/APR,4/MAY,5/JUN,6/JUL,7/AUG,8/SEP,9/OCT,10/NOV,11/DEC} {\node[tinyt] (ym\i) at ({593.6+29.17*\i},3317) {\t};}
\foreach \i in {1,...,11} {\draw[line width=0.6pt] ({579+29.17*\i},3310) -- ++(0,14);}
\foreach \i/\t in {0/2012Q1,1/2012Q2,2/2012Q3,3/2012Q4} {\node[tinyt] (yd\i) at ({622.75+87.5*\i},3345) {\t};}
\foreach \i/\t in {0/2012Q2,1/2012Q3,2/2012Q4,3/2013Q1} {\node[tinyt] (ys\i) at ({622.75+87.5*\i},3371) {\t};}
\foreach \i in {1,2,3} {\draw[line width=0.6pt] ({579+87.5*\i},3338) -- ++(0,14); \draw[line width=0.6pt] ({579+87.5*\i},3364) -- ++(0,14);}
\foreach \x in {637.3,724.8,812.3,899.8} {\draw[line width=0.6pt] (\x,3391) -- ++(0,14);}
\node[tinyt] (yf0) at (608,3398) {2012Q4};
\node[tinyt] (yf1) at (681,3398) {2013Q1};
\node[tinyt] (yf2) at (768.5,3398) {2013Q2};
\node[tinyt] (yf3) at (856,3398) {2013Q3};
\node[tinyt] (yf4) at (914.4,3398) {Q4};

\jLm{b5}{h1}\jLm{b5}{h2}\jLm{b5}{h3}\jLm{b5}{h4}\jLm{b5}{h5}
\jL{h1}{h1a}\jL{h1}{h1b}\jL{h1}{h1c}\jL{h1}{h1d}\jL{h1}{h1e}\jL{h1}{h1f}
\sL{h1a}{h1ac}\sL{h1ac}{h1acc}\sL{h1d}{h1dc}\sL{h1e}{h1ec}\sL{h1f}{h1fc}
\jL{h2}{h2a}\jL{h2}{h2b}\jL{h2}{h2c}\sL{h2a}{h2ac}\sL{h2ac}{img2}
\jL{h2b}{h2b1}\jL{h2b}{h2b2}\jL{h2c}{h2c1}\jL{h2c}{h2c2}
\jL{h3}{h3a}\jL{h3}{h3b}\jL{h3}{h3c}\sL{h3a}{img3}\sL{h3c}{h3cc}
\jL{h4}{h4a}\jL{h4}{h4b}\jL{h4}{h4c}\jL{h4}{h4d}
\sL{h4a}{h4ac}\jL{h4b}{h4b1}\jL{h4b}{h4b2}\sL{h4c}{h4cc}\sL{h4d}{h4dc}
\sL{h5}{h5c}\jL{h5c}{h5c1}\sL{h5c}{h5c2}\jL{h5c}{h5c3}

\node[anchor=east, text=gray!35, font=\zh\fontsize{14}{14}\selectfont, inner sep=0pt] (wm) at (3730,4136) {https://blog.csdn.net/weixin\_37855575};
\end{tikzpicture}
\end{document}
